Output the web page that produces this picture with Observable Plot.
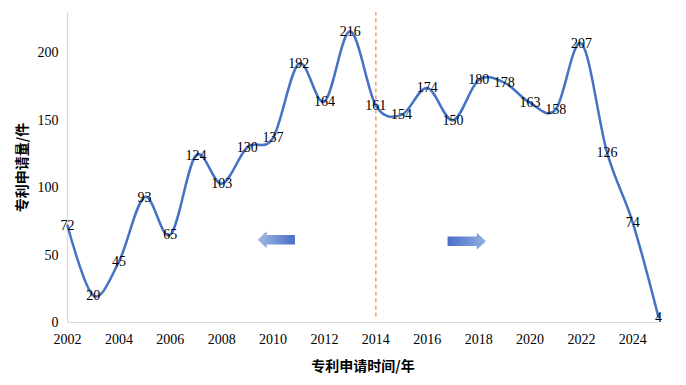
<!DOCTYPE html>
<html>
<head>
<meta charset="utf-8">
<script src="https://cdn.jsdelivr.net/npm/d3@7"></script>
<script src="https://cdn.jsdelivr.net/npm/@observablehq/plot@0.6"></script>
<style>
  html, body { margin: 0; padding: 0; background: #fff; }
</style>
</head>
<body>
<div id="chart"></div>
<script>
const years = [2002,2003,2004,2005,2006,2007,2008,2009,2010,2011,2012,2013,2014,2015,2016,2017,2018,2019,2020,2021,2022,2023,2024,2025];
const counts = [72,20,45,93,65,124,103,130,137,192,164,216,161,154,174,150,180,178,163,158,207,126,74,4];
const xTicks = [2002,2004,2006,2008,2010,2012,2014,2016,2018,2020,2022,2024];
const yTicks = [0,50,100,150,200];
const dividerYear = 2014;
const xTitle = "专利申请时间/年";
const yTitle = "专利申请量/件";
// decorative arrows: [fromYear, toYear, value]
const leftArrow = [2010.87, 2009.42, 61];
const rightArrow = [2016.81, 2018.3, 60];

const data = years.map((year, i) => ({year, count: counts[i]}));

function arrowMark(spec, id, cFrom, cTo) {
  return (index, scales) => {
    const x0 = scales.x(spec[0]), x1 = scales.x(spec[1]), yc = scales.y(spec[2]);
    const dir = Math.sign(x1 - x0);
    const headLen = 9, bodyH = 9.5, headH = 17;
    const xb = x1 - dir * headLen;
    const pts = [
      [x0, yc - bodyH/2], [xb, yc - bodyH/2], [xb, yc - headH/2], [x1, yc],
      [xb, yc + headH/2], [xb, yc + bodyH/2], [x0, yc + bodyH/2]
    ];
    const g = d3.create("svg:g");
    const grad = g.append("defs").append("linearGradient")
      .attr("id", id).attr("gradientUnits", "userSpaceOnUse")
      .attr("x1", x0).attr("y1", yc).attr("x2", x1).attr("y2", yc);
    grad.append("stop").attr("offset", "0%").attr("stop-color", cFrom);
    grad.append("stop").attr("offset", "100%").attr("stop-color", cTo);
    g.append("path").attr("d", "M" + pts.map(p => p.join(",")).join("L") + "Z")
      .attr("fill", `url(#${id})`);
    return g.node();
  };
}

const chart = Plot.plot({
  width: 686,
  height: 385,
  marginLeft: 67,
  marginRight: 28,
  marginTop: 12,
  marginBottom: 63,
  x: {domain: [2002, 2025]},
  y: {domain: [0, 230]},
  style: {fontFamily: "'Liberation Serif', 'Times New Roman', serif", fontSize: "14px", background: "#fff", color: "#000"},
  marks: [
    Plot.ruleY([0], {stroke: "#d9d9d9", strokeWidth: 1.2}),
    Plot.ruleX([2002], {stroke: "#d9d9d9", strokeWidth: 1.2}),
    Plot.axisX({ticks: xTicks, tickSize: 0, tickPadding: 12, tickFormat: d => String(d), label: null}),
    Plot.axisY({ticks: yTicks, tickSize: 0, tickPadding: 9, label: null}),
    Plot.ruleX([dividerYear], {y1: 4, y2: 230, stroke: "#f0a070", strokeDasharray: "4,3", strokeWidth: 1.5}),
    Plot.line(data, {x: "year", y: "count", curve: "cardinal", stroke: "#4472c4", strokeWidth: 2.5}),
    Plot.text(data, {x: "year", y: "count", text: d => String(d.count), fill: "#000"}),
    arrowMark(leftArrow, "gradL", "#4a70c6", "#a2b8e6"),
    arrowMark(rightArrow, "gradR", "#4a70c6", "#92ade2"),
    Plot.text([yTitle], {frameAnchor: "left", textAnchor: "middle", lineAnchor: "middle", rotate: -90, dx: -45,
      fontFamily: "'Noto Sans CJK SC', sans-serif", fontWeight: "bold", fontSize: 14, fill: "#000"}),
    Plot.text([xTitle], {frameAnchor: "bottom", textAnchor: "middle", lineAnchor: "middle", dy: 44,
      fontFamily: "'Noto Sans CJK SC', sans-serif", fontWeight: "bold", fontSize: 14, fill: "#000"})
  ]
});
document.getElementById("chart").appendChild(chart);
</script>
</body>
</html>
